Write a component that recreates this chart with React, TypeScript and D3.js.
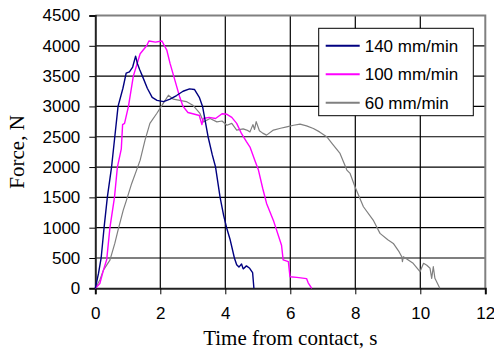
import React, { useEffect, useRef } from 'react';
import * as d3 from 'd3';

// Tick values
const timeTicks = [0, 2, 4, 6, 8, 10, 12];
const forceTicks = [0, 500, 1000, 1500, 2000, 2500, 3000, 3500, 4000, 4500];

// [time s, force N]
const rate140: [number, number][] = [
  [0, 0], [0.1, 250], [0.18, 500], [0.27, 1000], [0.37, 1500], [0.5, 2000], [0.6, 2500],
  [0.7, 3000], [0.85, 3300], [0.95, 3550], [1.05, 3570], [1.15, 3650], [1.24, 3830],
  [1.3, 3700], [1.37, 3600], [1.45, 3500], [1.6, 3300], [1.75, 3150], [1.9, 3100],
  [2.1, 3080], [2.3, 3120], [2.5, 3180], [2.7, 3250], [2.9, 3290], [3.05, 3280],
  [3.2, 3150], [3.3, 3000], [3.47, 2500], [3.6, 2200], [3.7, 2000], [3.84, 1500],
  [3.95, 1200], [4.04, 1000], [4.15, 800], [4.28, 500], [4.35, 390], [4.42, 350],
  [4.5, 400], [4.55, 320], [4.65, 370], [4.75, 330], [4.84, 260], [4.88, 0],
];

const rate100: [number, number][] = [
  [0, 0], [0.14, 80], [0.25, 300], [0.35, 470], [0.45, 1000], [0.59, 1500], [0.68, 2000],
  [0.8, 2300], [0.84, 2700], [0.9, 2720], [1.02, 3000], [1.17, 3500], [1.38, 3870], [1.58, 4000],
  [1.65, 4080], [1.85, 4060], [2.05, 4080], [2.2, 3930], [2.3, 3710], [2.45, 3430],
  [2.6, 3150], [2.7, 3000], [2.85, 2900], [3.0, 2880], [3.2, 2850], [3.28, 2700], [3.32, 2800],
  [3.5, 2820], [3.7, 2800], [3.9, 2880], [4.05, 2870], [4.2, 2820], [4.35, 2720],
  [4.5, 2550], [4.65, 2420], [4.76, 2330], [4.91, 2110], [5.02, 1950], [5.15, 1650],
  [5.27, 1400], [5.48, 1120], [5.73, 710], [5.78, 470], [5.94, 440], [5.99, 190],
  [6.2, 180], [6.5, 160], [6.55, 90], [6.66, 0],
];

const rate60: [number, number][] = [
  [0, 0], [0.14, 137], [0.25, 300], [0.35, 383], [0.45, 466], [0.6, 740], [0.7, 960],
  [0.86, 1290], [0.96, 1455], [1.12, 1730], [1.27, 1950], [1.38, 2114], [1.53, 2444],
  [1.68, 2720], [1.89, 2884], [2.09, 3050], [2.25, 3185], [2.4, 3120], [2.6, 3100],
  [2.8, 3080], [3.0, 3020], [3.22, 2884], [3.33, 2745], [3.53, 2800], [3.74, 2745],
  [3.9, 2760], [4.05, 2690], [4.2, 2720], [4.35, 2610], [4.55, 2630], [4.66, 2610],
  [4.76, 2580], [4.85, 2700], [4.9, 2620], [4.95, 2750], [5.05, 2600], [5.15, 2560],
  [5.27, 2527], [5.48, 2610], [5.7, 2640], [5.89, 2664], [6.1, 2690], [6.3, 2708],
  [6.5, 2680], [6.71, 2637], [6.9, 2580], [7.12, 2500], [7.3, 2380], [7.53, 2225],
  [7.74, 1950], [7.84, 1895], [7.99, 1675], [8.25, 1345], [8.55, 1125], [8.76, 906],
  [9.0, 800], [9.17, 741], [9.35, 600], [9.43, 520], [9.45, 440], [9.48, 521],
  [9.78, 412], [9.99, 274], [10.1, 412], [10.2, 380], [10.3, 330], [10.35, 165],
  [10.4, 356], [10.45, 165], [10.6, 0],
];

const seriesNames = ['140 mm/min', '100 mm/min', '60 mm/min'];
const seriesColors = ['#000080', '#ff00ff', '#808080'];
const seriesWidths = [1.4, 1.4, 1.2];
const seriesData = [rate140, rate100, rate60];

const App: React.FC = () => {
  const svgRef = useRef<SVGSVGElement>(null);

  useEffect(() => {
    if (!svgRef.current) return;
    const width = 494;
    const height = 352;
    const left = 95.3;
    const right = 485.3;
    const top = 15.5;
    const bottom = 288.3;

    const svg = d3.select(svgRef.current);
    svg.selectAll('*').remove();
    svg.attr('width', width).attr('height', height);

    svg.append('rect').attr('width', width).attr('height', height).attr('fill', '#fff');

    const x = d3.scaleLinear().domain([0, 12]).range([left, right]);
    const y = d3.scaleLinear().domain([0, 4500]).range([bottom, top]);

    // Grid
    const grid = svg.append('g').attr('stroke', '#000').attr('stroke-width', 1.2);
    timeTicks.slice(1, -1).forEach((t) => {
      grid.append('line')
        .attr('x1', x(t)).attr('x2', x(t))
        .attr('y1', top).attr('y2', bottom);
    });
    forceTicks.slice(1, -1).forEach((f) => {
      grid.append('line')
        .attr('x1', left).attr('x2', right)
        .attr('y1', y(f)).attr('y2', y(f));
    });

    // Plot frame (top/right grey)
    svg.append('path')
      .attr('d', `M${left},${top}H${right}V${bottom}`)
      .attr('fill', 'none')
      .attr('stroke', '#808080')
      .attr('stroke-width', 2);

    // Axes
    const yAxis = svg.append('g')
      .attr('transform', `translate(${left},0)`)
      .call(d3.axisLeft(y).tickValues(forceTicks).tickSize(6).tickPadding(9).tickFormat(d3.format('d')));
    const xAxis = svg.append('g')
      .attr('transform', `translate(0,${bottom})`)
      .call(d3.axisBottom(x).tickValues(timeTicks).tickSize(6).tickPadding(13).tickFormat(d3.format('d')));

    [yAxis, xAxis].forEach((a) => {
      a.select('.domain').attr('stroke', '#222').attr('stroke-width', 2);
      a.selectAll('.tick line').attr('stroke', '#000');
      a.selectAll('.tick text')
        .attr('fill', '#000')
        .style('font-family', 'Liberation Sans, Arial, sans-serif')
        .style('font-size', '17px');
    });

    // Series
    const line = d3.line<[number, number]>()
      .x((d) => x(d[0]))
      .y((d) => y(d[1]));

    [2, 1, 0].forEach((i) => {
      svg.append('path')
        .datum(seriesData[i])
        .attr('fill', 'none')
        .attr('stroke', seriesColors[i])
        .attr('stroke-width', seriesWidths[i])
        .attr('stroke-linejoin', 'round')
        .attr('d', line);
    });

    // Legend
    const legend = svg.append('g').attr('transform', 'translate(318.7,28.3)');
    legend.append('rect')
      .attr('width', 154.6)
      .attr('height', 87.4)
      .attr('fill', '#fff')
      .attr('stroke', '#000')
      .attr('stroke-width', 1);
    seriesNames.forEach((name, i) => {
      const row = legend.append('g').attr('transform', `translate(0,${17.4 + i * 28.5})`);
      row.append('line')
        .attr('x1', 7).attr('x2', 41)
        .attr('stroke', seriesColors[i])
        .attr('stroke-width', 2);
      row.append('text')
        .attr('x', 46)
        .attr('y', 6)
        .style('font-family', 'Liberation Sans, Arial, sans-serif')
        .style('font-size', '17px')
        .text(name);
    });

    // Axis titles
    svg.append('text')
      .attr('x', (left + right) / 2)
      .attr('y', 345)
      .attr('text-anchor', 'middle')
      .style('font-family', 'Liberation Serif, Times New Roman, serif')
      .style('font-size', '21px')
      .text('Time from contact, s');

    svg.append('text')
      .attr('transform', `translate(24,${(top + bottom) / 2}) rotate(-90)`)
      .attr('text-anchor', 'middle')
      .style('font-family', 'Liberation Serif, Times New Roman, serif')
      .style('font-size', '21px')
      .text('Force, N');
  }, []);

  return (
    <svg
      ref={svgRef}
      style={{ position: 'absolute', left: 0, top: 0, display: 'block' }}
    />
  );
};

export default App;
